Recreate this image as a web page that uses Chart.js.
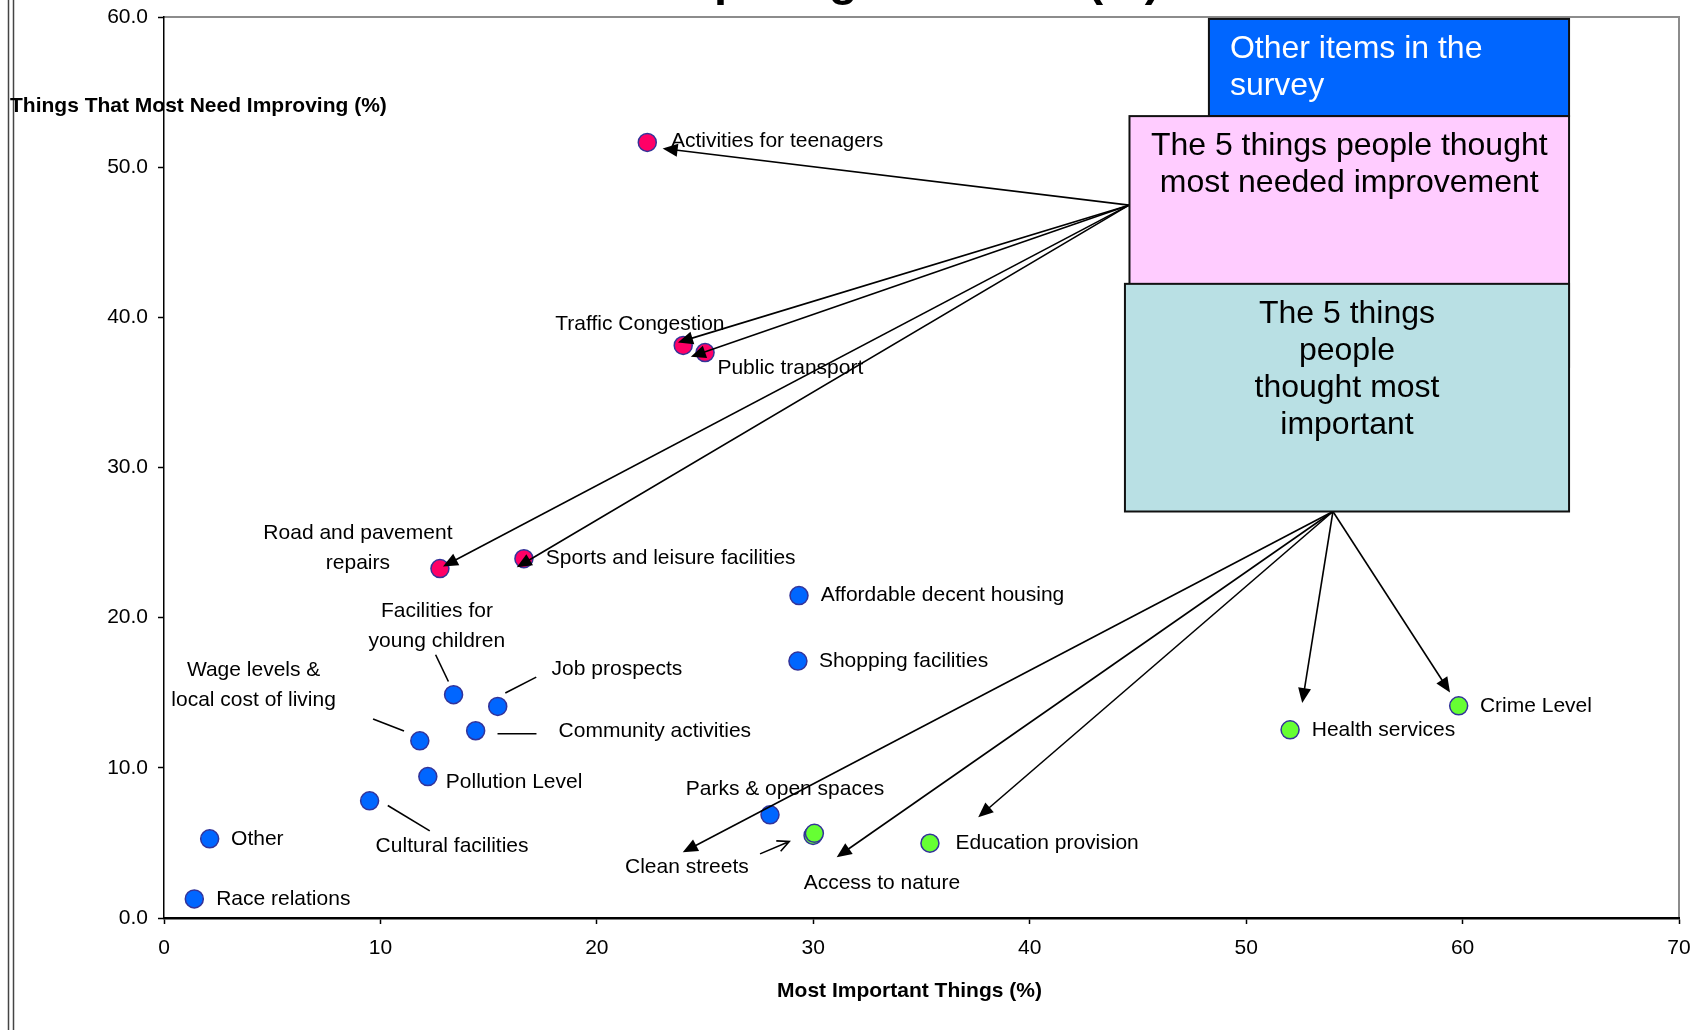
<!DOCTYPE html>
<html>
<head>
<meta charset="utf-8">
<title>Most important vs most need improving</title>
<script src="https://cdn.jsdelivr.net/npm/chart.js@4.4.0/dist/chart.umd.min.js"></script>
<style>
  html, body { margin: 0; padding: 0; background: #fff; }
  canvas { display: block; }
</style>
</head>
<body>
<canvas id="chart" width="1691" height="1030"></canvas>
<script>
// Survey items: x = % saying "most important", y = % saying "most needs improving"
const otherItems = ['Affordable decent housing', 'Shopping facilities', 'Facilities for young children',
  'Job prospects', 'Community activities', 'Wage levels & local cost of living', 'Pollution Level',
  'Cultural facilities', 'Other', 'Race relations', 'Parks & open spaces'];
const otherX = [29.34, 29.29, 13.38, 15.42, 14.40, 11.82, 12.19, 9.50, 2.11, 1.40, 28.00];
const otherY = [21.47, 17.11, 14.87, 14.09, 12.47, 11.80, 9.42, 7.80, 5.27, 1.27, 6.87];

const improveItems = ['Activities for teenagers', 'Traffic Congestion', 'Public transport',
  'Road and pavement repairs', 'Sports and leisure facilities'];
const improveX = [22.33, 23.99, 25.00, 12.75, 16.63];
const improveY = [51.65, 38.13, 37.65, 23.27, 23.93];

const importantItems = ['Crime Level', 'Health services', 'Education provision', 'Access to nature', 'Clean streets'];
const importantX = [59.82, 52.03, 35.39, 29.99, 30.05];
const importantY = [14.13, 12.53, 4.98, 5.50, 5.64];

const xTicks = [0, 10, 20, 30, 40, 50, 60, 70];
const yTicks = [0, 10, 20, 30, 40, 50, 60];

// annotations, in chart units
const labelSpots = [
  { text: ['Activities for teenagers'], x: 23.42, y: 51.70, align: 'left' },
  { text: ['Traffic Congestion'], x: 21.99, y: 39.53, align: 'center' },
  { text: ['Public transport'], x: 25.57, y: 36.58, align: 'left' },
  { text: ['Road and pavement', 'repairs'], x: 8.96, y: 25.65, align: 'center' },
  { text: ['Sports and leisure facilities'], x: 17.64, y: 23.93, align: 'left' },
  { text: ['Affordable decent housing'], x: 30.34, y: 21.47, align: 'left' },
  { text: ['Shopping facilities'], x: 30.26, y: 17.13, align: 'left' },
  { text: ['Facilities for', 'young children'], x: 12.61, y: 20.42, align: 'center' },
  { text: ['Job prospects'], x: 17.91, y: 16.60, align: 'left' },
  { text: ['Wage levels &', 'local cost of living'], x: 4.14, y: 16.47, align: 'center' },
  { text: ['Community activities'], x: 18.23, y: 12.47, align: 'left' },
  { text: ['Pollution Level'], x: 13.02, y: 9.02, align: 'left' },
  { text: ['Cultural facilities'], x: 13.31, y: 4.75, align: 'center' },
  { text: ['Other'], x: 3.10, y: 5.27, align: 'left' },
  { text: ['Race relations'], x: 2.41, y: 1.27, align: 'left' },
  { text: ['Parks & open spaces'], x: 28.69, y: 8.60, align: 'center' },
  { text: ['Clean streets'], x: 24.16, y: 3.35, align: 'center' },
  { text: ['Access to nature'], x: 33.17, y: 2.35, align: 'center' },
  { text: ['Education provision'], x: 36.57, y: 5.00, align: 'left' },
  { text: ['Health services'], x: 53.03, y: 12.53, align: 'left' },
  { text: ['Crime Level'], x: 60.80, y: 14.13, align: 'left' }
];

const leaders = [
  [13.14, 15.75, 12.55, 17.53],
  [15.77, 14.98, 17.20, 16.04],
  [15.41, 12.27, 17.21, 12.27],
  [9.66, 13.25, 11.09, 12.45],
  [10.34, 7.49, 12.28, 5.80]
];

const improveFrom = [44.59, 47.47];
const improveTo = [[23.04, 51.25], [23.75, 38.33], [24.34, 37.38], [12.89, 23.40], [16.30, 23.35]];
const importantFrom = [54.01, 27.07];
const importantTo = [[23.97, 4.38], [31.08, 4.05], [37.62, 6.71], [52.59, 14.31], [59.42, 15.02]];
const openArrow = [27.54, 4.27, 28.89, 5.09];

const boxes = [
  { x1: 48.28, x2: 64.92, y1: 59.87, y2: 53.40, fill: '#0066ff', color: '#fff', align: 'left',
    lines: ['Other items in the', 'survey'] },
  { x1: 44.61, x2: 64.92, y1: 53.40, y2: 36.70, fill: '#ffccff', color: '#000', align: 'center',
    lines: ['The 5 things people thought', 'most needed improvement'] },
  { x1: 44.40, x2: 64.92, y1: 42.23, y2: 27.07, fill: '#b9e0e4', color: '#000', align: 'center',
    lines: ['The 5 things', 'people', 'thought most', 'important'] }
];

const FONT = '"Liberation Sans", Arial, sans-serif';

function toPoints(xs, ys) {
  return xs.map((x, i) => ({ x, y: ys[i] }));
}

function drawArrow(ctx, x1, y1, x2, y2) {
  const a = Math.atan2(y2 - y1, x2 - x1);
  const L = 15, W = 6.5;
  ctx.beginPath();
  ctx.moveTo(x1, y1);
  ctx.lineTo(x2 - (L - 2) * Math.cos(a), y2 - (L - 2) * Math.sin(a));
  ctx.stroke();
  ctx.beginPath();
  ctx.moveTo(x2, y2);
  ctx.lineTo(x2 - L * Math.cos(a) + W * Math.sin(a), y2 - L * Math.sin(a) - W * Math.cos(a));
  ctx.lineTo(x2 - L * Math.cos(a) - W * Math.sin(a), y2 - L * Math.sin(a) + W * Math.cos(a));
  ctx.closePath();
  ctx.fill();
}

const notesPlugin = {
  id: 'notes',
  beforeDraw(chart) {
    const ctx = chart.ctx;
    const area = chart.chartArea;
    ctx.save();
    // outer frame on the left
    ctx.strokeStyle = '#444';
    ctx.lineWidth = 1.5;
    [8.5, 13.5].forEach(x => {
      ctx.beginPath(); ctx.moveTo(x, 0); ctx.lineTo(x, chart.height); ctx.stroke();
    });
    // plot area border (top, right)
    ctx.strokeStyle = '#8c8c8c';
    ctx.lineWidth = 2;
    ctx.beginPath();
    ctx.moveTo(area.left, area.top);
    ctx.lineTo(area.right, area.top);
    ctx.lineTo(area.right, area.bottom);
    ctx.stroke();
    // title, mostly cut off at the top
    ctx.fillStyle = '#000';
    ctx.font = 'bold 47px ' + FONT;
    ctx.textAlign = 'center';
    ctx.textBaseline = 'alphabetic';
    ctx.fillText('Comparing Priorities (%)', 885, -5);
    // y axis title, horizontal
    ctx.font = 'bold 21px ' + FONT;
    ctx.textAlign = 'left';
    ctx.textBaseline = 'middle';
    ctx.fillText('Things That Most Need Improving (%)', 10, 106);
    ctx.restore();
  },
  afterDatasetsDraw(chart) {
    const ctx = chart.ctx;
    const sx = chart.scales.x, sy = chart.scales.y;
    const px = v => sx.getPixelForValue(v);
    const py = v => sy.getPixelForValue(v);
    ctx.save();
    ctx.fillStyle = '#000';
    ctx.font = '21px ' + FONT;
    ctx.textBaseline = 'middle';
    labelSpots.forEach(l => {
      ctx.textAlign = l.align;
      l.text.forEach((t, i) => ctx.fillText(t, px(l.x), py(l.y) + i * 30));
    });
    ctx.strokeStyle = '#000';
    ctx.lineWidth = 1.6;
    leaders.forEach(s => {
      ctx.beginPath(); ctx.moveTo(px(s[0]), py(s[1])); ctx.lineTo(px(s[2]), py(s[3])); ctx.stroke();
    });
    improveTo.forEach(t => drawArrow(ctx, px(improveFrom[0]), py(improveFrom[1]), px(t[0]), py(t[1])));
    importantTo.forEach(t => drawArrow(ctx, px(importantFrom[0]), py(importantFrom[1]), px(t[0]), py(t[1])));
    // open arrow from the "Clean streets" label
    const ox1 = px(openArrow[0]), oy1 = py(openArrow[1]), ox2 = px(openArrow[2]), oy2 = py(openArrow[3]);
    const a = Math.atan2(oy2 - oy1, ox2 - ox1);
    ctx.beginPath();
    ctx.moveTo(ox1, oy1); ctx.lineTo(ox2, oy2);
    ctx.moveTo(ox2 - 13 * Math.cos(a - 0.45), oy2 - 13 * Math.sin(a - 0.45));
    ctx.lineTo(ox2, oy2);
    ctx.lineTo(ox2 - 13 * Math.cos(a + 0.45), oy2 - 13 * Math.sin(a + 0.45));
    ctx.stroke();
    ctx.restore();
  },
  afterDraw(chart) {
    const ctx = chart.ctx;
    const sx = chart.scales.x, sy = chart.scales.y;
    const area = chart.chartArea;
    ctx.save();
    boxes.forEach(b => {
      const x1 = sx.getPixelForValue(b.x1), x2 = sx.getPixelForValue(b.x2);
      const y1 = sy.getPixelForValue(b.y1), y2 = sy.getPixelForValue(b.y2);
      ctx.fillStyle = b.fill;
      ctx.fillRect(x1, y1, x2 - x1, y2 - y1);
      ctx.strokeStyle = '#111';
      ctx.lineWidth = 2;
      ctx.strokeRect(x1, y1, x2 - x1, y2 - y1);
      ctx.fillStyle = b.color;
      ctx.font = '32px ' + FONT;
      ctx.textBaseline = 'middle';
      ctx.textAlign = b.align;
      const tx = b.align === 'left' ? x1 + 21 : (x1 + x2) / 2;
      b.lines.forEach((t, i) => ctx.fillText(t, tx, y1 + 30 + i * 37));
    });
    // x axis title
    ctx.fillStyle = '#000';
    ctx.font = 'bold 21px ' + FONT;
    ctx.textAlign = 'center';
    ctx.textBaseline = 'middle';
    ctx.fillText('Most Important Things (%)', (area.left + area.right) / 2 - 12, 991);
    ctx.restore();
  }
};

const pointStyle = {
  pointRadius: 9,
  pointHoverRadius: 9,
  pointBorderWidth: 1.5,
  pointBorderColor: '#333399',
  showLine: false
};

new Chart(document.getElementById('chart'), {
  type: 'scatter',
  data: {
    datasets: [
      { label: 'Other items in the survey', data: toPoints(otherX, otherY),
        backgroundColor: '#0066ff', ...pointStyle },
      { label: 'Most needed improvement', data: toPoints(improveX, improveY),
        backgroundColor: '#ff0066', ...pointStyle },
      { label: 'Most important', data: toPoints(importantX, importantY),
        backgroundColor: '#66ff33', ...pointStyle }
    ]
  },
  options: {
    responsive: false,
    animation: false,
    layout: { padding: { left: 0, top: 17, right: 12, bottom: 0 } },
    plugins: {
      legend: { display: false },
      tooltip: { enabled: false },
      title: { display: false }
    },
    scales: {
      x: {
        type: 'linear',
        min: xTicks[0],
        max: xTicks[xTicks.length - 1],
        afterBuildTicks: s => { s.ticks = xTicks.map(v => ({ value: v })); },
        afterFit: s => { s.height = 112; s.paddingLeft = 0; s.paddingRight = 0; },
        grid: { drawOnChartArea: false, drawTicks: true, tickLength: 6, tickColor: '#000', tickWidth: 1.5 },
        border: { display: true, color: '#000', width: 2.5 },
        ticks: { color: '#000', padding: 12, font: { family: FONT, size: 21 } }
      },
      y: {
        type: 'linear',
        min: yTicks[0],
        max: yTicks[yTicks.length - 1],
        afterBuildTicks: s => { s.ticks = yTicks.map(v => ({ value: v })); },
        afterFit: s => { s.width = 164; s.paddingTop = 0; s.paddingBottom = 0; },
        grid: { drawOnChartArea: false, drawTicks: true, tickLength: 6, tickColor: '#000', tickWidth: 1.5 },
        border: { display: true, color: '#000', width: 1.5 },
        ticks: { color: '#000', padding: 10, font: { family: FONT, size: 21 },
          callback: v => Number(v).toFixed(1) }
      }
    }
  },
  plugins: [notesPlugin]
});
</script>
</body>
</html>
